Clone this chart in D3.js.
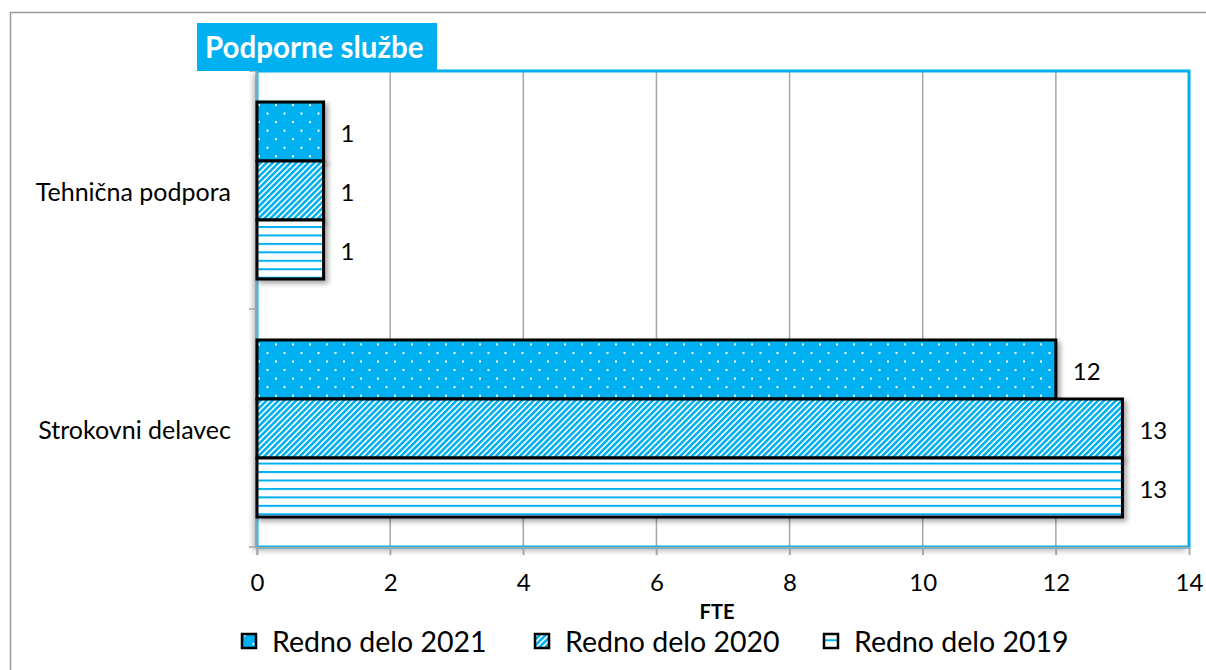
<!DOCTYPE html>
<html>
<head>
<meta charset="utf-8">
<script src="https://cdn.jsdelivr.net/npm/d3@7"></script>
<style>
  html, body { margin: 0; padding: 0; background: #fff; }
  svg { display: block; }
  text { font-family: Lato, "Open Sans", sans-serif; fill: #000; }
</style>
</head>
<body>
<svg id="chart" width="1206" height="670"></svg>
<script>
// ---- data ----
const categories = ["Tehnična podpora", "Strokovni delavec"];
const seriesNames = ["Redno delo 2021", "Redno delo 2020", "Redno delo 2019"];
const values2021 = [1, 12];
const values2020 = [1, 13];
const values2019 = [1, 13];
const xTicks = [0, 2, 4, 6, 8, 10, 12, 14];
const chartTitle = "Podporne službe";
const axisTitle = "FTE";

const seriesValues = [values2021, values2020, values2019];
const patternIds = ["pDots", "pDiag", "pHoriz"];
const CYAN = "#00B0F0";

const svg = d3.select("#chart");
const defs = svg.append("defs");

// patterns
const pd = defs.append("pattern").attr("id", "pDots").attr("patternUnits", "userSpaceOnUse")
  .attr("width", 17).attr("height", 17.1).attr("x", 258).attr("y", 104);
pd.append("rect").attr("width", 17).attr("height", 17.1).attr("fill", CYAN);
pd.append("rect").attr("x", 0).attr("y", 0).attr("width", 2).attr("height", 2).attr("fill", "#fff");
pd.append("rect").attr("x", 8.5).attr("y", 8.55).attr("width", 2).attr("height", 2).attr("fill", "#fff");

const pg = defs.append("pattern").attr("id", "pDiag").attr("patternUnits", "userSpaceOnUse")
  .attr("width", 4.2).attr("height", 4.2).attr("patternTransform", "rotate(45)");
pg.append("rect").attr("width", 4.2).attr("height", 4.2).attr("fill", "#fff");
pg.append("rect").attr("width", 2.6).attr("height", 4.2).attr("fill", CYAN);

const ph = defs.append("pattern").attr("id", "pHoriz").attr("patternUnits", "userSpaceOnUse")
  .attr("width", 10).attr("height", 8.45).attr("y", 226);
ph.append("rect").attr("width", 10).attr("height", 8.45).attr("fill", "#fff");
ph.append("rect").attr("y", 0).attr("width", 10).attr("height", 2).attr("fill", CYAN);

// shadows
const f1 = defs.append("filter").attr("id", "barShadow").attr("x", "-10%").attr("y", "-20%").attr("width", "130%").attr("height", "150%");
f1.append("feDropShadow").attr("dx", 3).attr("dy", 3).attr("stdDeviation", 2.5).attr("flood-color", "#000").attr("flood-opacity", 0.35);
const f2 = defs.append("filter").attr("id", "plotShadow").attr("x", "-5%").attr("y", "-5%").attr("width", "110%").attr("height", "110%");
f2.append("feDropShadow").attr("dx", -3).attr("dy", 3).attr("stdDeviation", 3).attr("flood-color", "#000").attr("flood-opacity", 0.35);

// outer frame
svg.append("path").attr("d", "M10.5,670 L10.5,12.5 L1206,12.5")
  .attr("fill", "none").attr("stroke", "#9a9a9a").attr("stroke-width", 1.5);

// plot geometry
const plot = { left: 257, top: 71, right: 1189, bottom: 547 };

const x = d3.scaleLinear().domain([0, 14]).range([plot.left, plot.right]);
const y = d3.scaleBand().domain(categories).range([plot.top, plot.bottom]);
const ySub = d3.scaleBand().domain(seriesNames).range([31, y.bandwidth() - 30]);

// plot area background with shadow
svg.append("rect")
  .attr("x", plot.left).attr("y", plot.top)
  .attr("width", plot.right - plot.left).attr("height", plot.bottom - plot.top)
  .attr("fill", "#fff").attr("filter", "url(#plotShadow)");

// gridlines
svg.append("g").selectAll("line").data(xTicks.filter(t => t > 0 && t < 14)).join("line")
  .attr("x1", d => x(d)).attr("x2", d => x(d))
  .attr("y1", plot.top).attr("y2", plot.bottom + 8)
  .attr("stroke", "#a6a6a6").attr("stroke-width", 1.5);

// plot border
svg.append("rect")
  .attr("x", plot.left).attr("y", plot.top)
  .attr("width", plot.right - plot.left).attr("height", plot.bottom - plot.top)
  .attr("fill", "none").attr("stroke", CYAN).attr("stroke-width", 3);

// x axis
const xAxis = d3.axisBottom(x).tickValues(xTicks).tickSize(8).tickFormat(d3.format("d"));
const gx = svg.append("g").attr("transform", `translate(0,${plot.bottom})`).call(xAxis);
gx.select(".domain").attr("stroke", "#a6a6a6").attr("stroke-width", 1.5);
gx.selectAll(".tick line").attr("stroke", "#a6a6a6").attr("stroke-width", 1.5);
gx.selectAll(".tick text").attr("font-family", "Lato").attr("font-size", 24).attr("fill", "#000").attr("y", 27).attr("dy", "0.71em");

// y axis
const yTickPos = [plot.top, ...categories.map(c => y(c) + y.bandwidth())];
const gy = svg.append("g");
gy.append("line").attr("x1", plot.left).attr("x2", plot.left).attr("y1", plot.top).attr("y2", plot.bottom + 8)
  .attr("stroke", "#a6a6a6").attr("stroke-width", 1.5);
gy.selectAll("line.t").data(yTickPos).join("line").attr("class", "t")
  .attr("x1", plot.left - 8).attr("x2", plot.left).attr("y1", d => d).attr("y2", d => d)
  .attr("stroke", "#a6a6a6").attr("stroke-width", 1.5);
gy.selectAll("text").data(categories).join("text")
  .attr("x", 231).attr("y", d => y(d) + y.bandwidth() / 2 + 1)
  .attr("text-anchor", "end").attr("dominant-baseline", "central")
  .attr("font-size", 25).text(d => d);

// bars
const barsG = svg.append("g");
seriesNames.forEach((s, si) => {
  const g = barsG.append("g");
  g.selectAll("rect").data(categories).join("rect")
    .attr("x", x(0))
    .attr("y", c => y(c) + ySub(s))
    .attr("width", (c, i) => x(seriesValues[si][i]) - x(0))
    .attr("height", ySub.bandwidth())
    .attr("fill", `url(#${patternIds[si]})`)
    .attr("stroke", "#000").attr("stroke-width", 3)
    .attr("filter", "url(#barShadow)");
});
// labels
seriesNames.forEach((s, si) => {
  svg.append("g").selectAll("text").data(categories).join("text")
    .attr("x", (c, i) => x(seriesValues[si][i]) + 17)
    .attr("y", c => y(c) + ySub(s) + ySub.bandwidth() / 2 + 1)
    .attr("dominant-baseline", "central")
    .attr("font-size", 24)
    .text((c, i) => seriesValues[si][i]);
});

// title box
const tg = svg.append("g");
tg.append("rect").attr("x", 197).attr("y", 23).attr("width", 240).attr("height", 48).attr("fill", CYAN);
tg.append("text").attr("x", 205).attr("y", 58).attr("font-size", 29.5).attr("font-weight", "bold")
  .style("fill", "#fff").text(chartTitle);

// legend
const legendX = [241, 534, 823];
const lg = svg.append("g");
seriesNames.forEach((s, i) => {
  const g = lg.append("g").attr("transform", `translate(${legendX[i]},633)`);
  g.append("rect").attr("x", 1).attr("y", 1).attr("width", 14).attr("height", 14)
    .attr("fill", `url(#${patternIds[i]})`).attr("stroke", "#000").attr("stroke-width", 2.5);
  g.append("text").attr("x", 31).attr("y", 8).attr("dominant-baseline", "central")
    .attr("font-size", 28.5).text(s);
});

// axis title
svg.append("text").attr("x", 717).attr("y", 619).attr("text-anchor", "middle")
  .attr("font-size", 20).attr("font-weight", "bold").text(axisTitle);
</script>
</body>
</html>
